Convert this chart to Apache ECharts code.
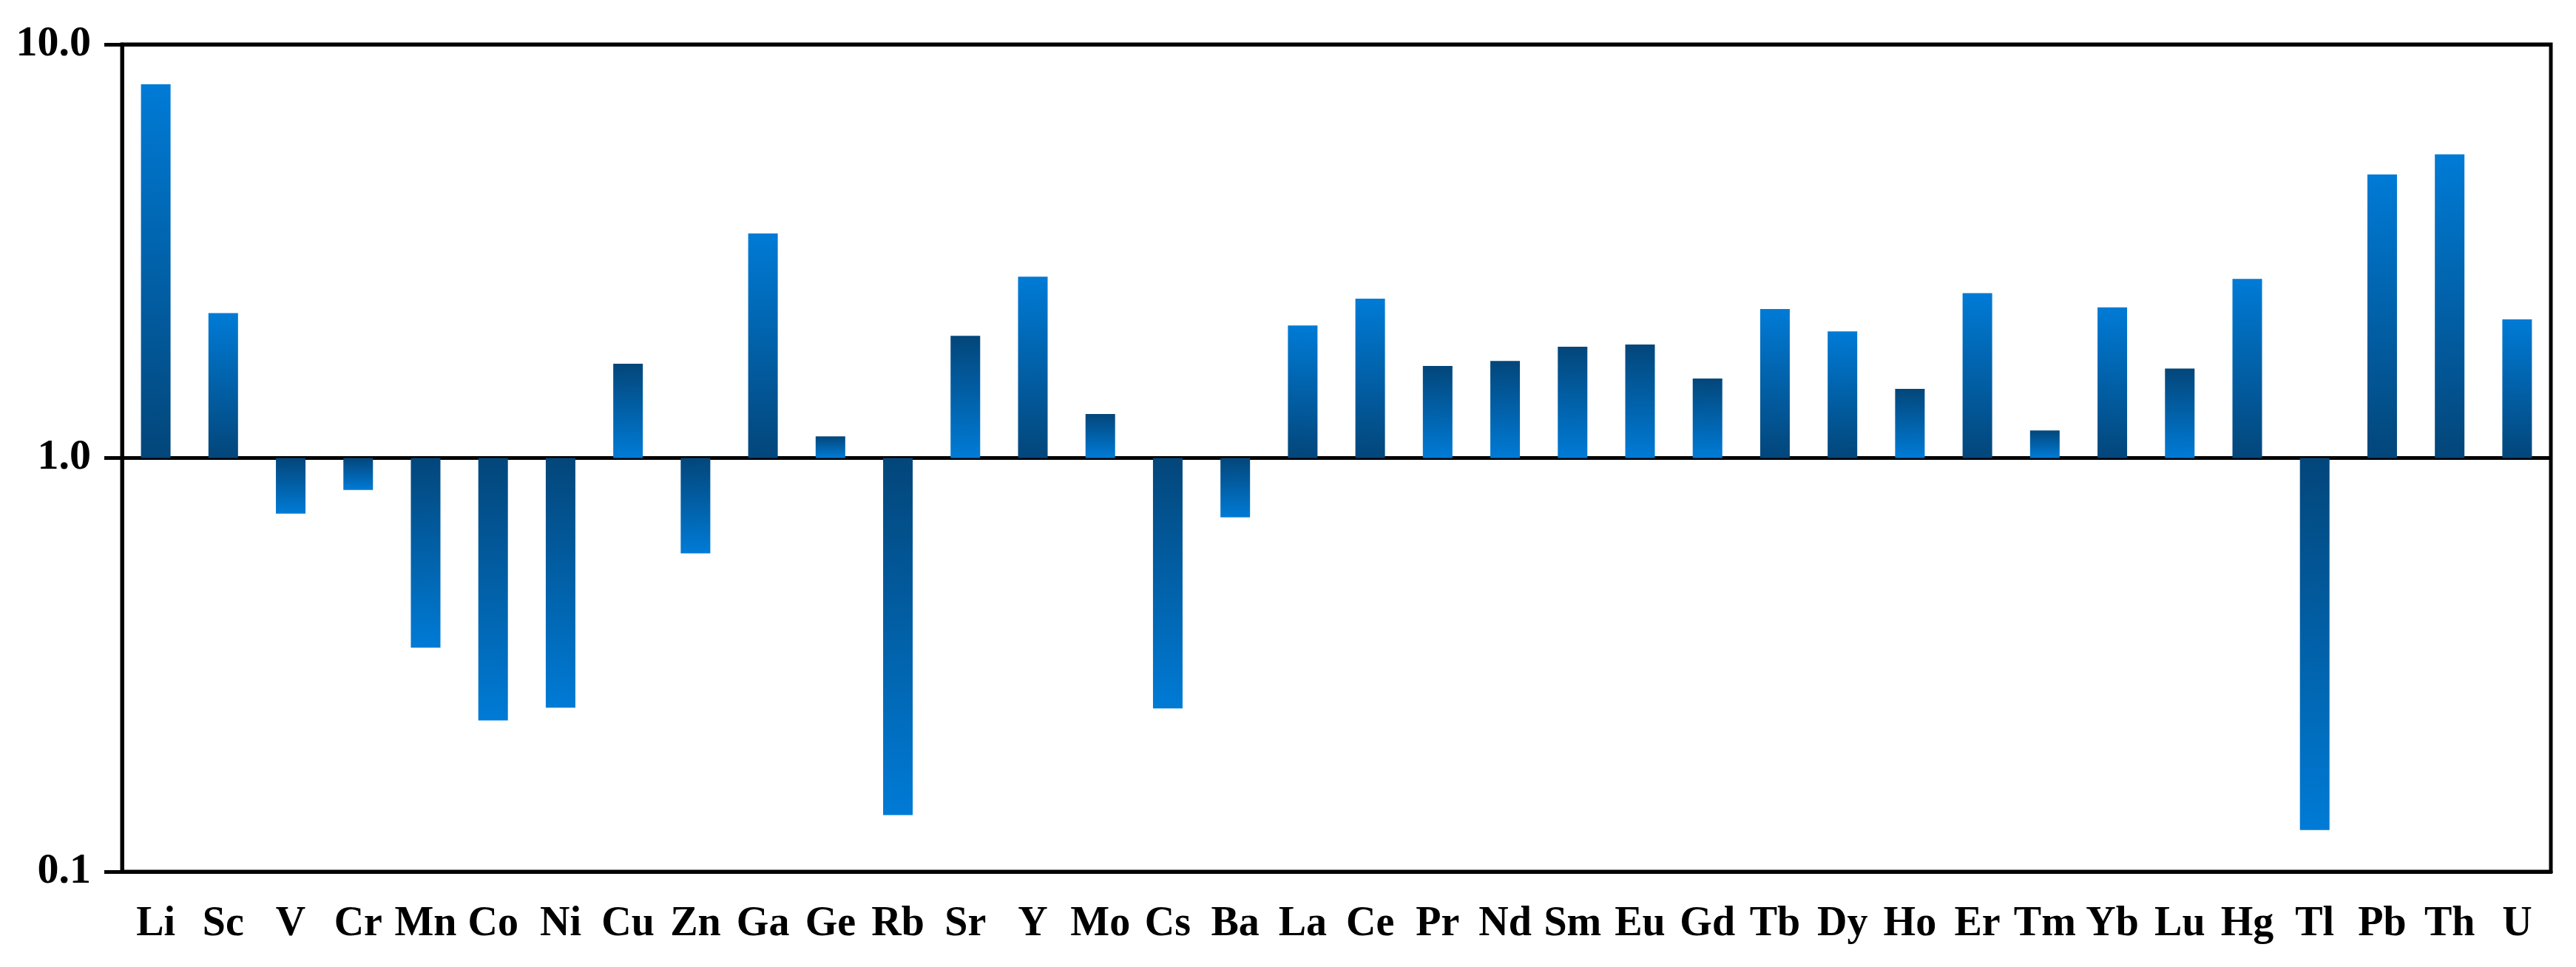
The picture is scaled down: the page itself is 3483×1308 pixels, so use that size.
<!DOCTYPE html>
<html><head><meta charset="utf-8">
<script src="https://cdn.jsdelivr.net/npm/echarts@6/dist/echarts.min.js"></script>
<style>html,body{margin:0;padding:0;background:#fff}#c{width:3483px;height:1308px}</style>
</head><body><div id="c"></div>
<script>
const categories = ['Li','Sc','V','Cr','Mn','Co','Ni','Cu','Zn','Ga','Ge','Rb','Sr','Y','Mo','Cs','Ba','La','Ce','Pr','Nd','Sm','Eu','Gd','Tb','Dy','Ho','Er','Tm','Yb','Lu','Hg','Tl','Pb','Th','U'];
const values = [8.01,2.24,0.734,0.837,0.348,0.232,0.249,1.69,0.588,3.49,1.128,0.137,1.974,2.744,1.278,0.248,0.719,2.092,2.428,1.670,1.717,1.858,1.881,1.557,2.292,2.023,1.470,2.503,1.166,2.313,1.645,2.710,0.126,4.847,5.424,2.163];
const yTicks = [0.1, 1, 10];

const LIGHT = '#007BD6', DARK = '#03467A';
function barColor(v) {
  // dark at the baseline for tall and negative bars, dark at the tip for short positive bars
  const darkTop = v < 2;
  const stops = darkTop
    ? [{offset: 0, color: DARK}, {offset: 1, color: LIGHT}]
    : [{offset: 0, color: LIGHT}, {offset: 1, color: DARK}];
  return new echarts.graphic.LinearGradient(0, 0, 0, 1, stops);
}

const chart = echarts.init(document.getElementById('c'), null, {renderer: 'canvas'});
const FONT = '"Liberation Serif", "Times New Roman", serif';
chart.setOption({
  animation: false,
  backgroundColor: '#fff',
  grid: {left: 165, right: 34, top: 60, bottom: 129, show: true, borderColor: '#000', borderWidth: 5, backgroundColor: 'transparent'},
  xAxis: {
    type: 'category',
    data: categories,
    axisLine: {show: true, lineStyle: {color: '#000', width: 5}},
    axisTick: {show: false},
    axisLabel: {interval: 0, color: '#000', fontFamily: FONT, fontWeight: 'bold', fontSize: 56, margin: 44}
  },
  yAxis: {
    type: 'log',
    logBase: 10,
    min: yTicks[0],
    max: yTicks[yTicks.length - 1],
    axisLine: {show: true, lineStyle: {color: '#000', width: 5}},
    axisTick: {show: true, inside: false, length: 24, lineStyle: {color: '#000', width: 5}},
    minorTick: {show: false},
    splitLine: {show: true, lineStyle: {color: '#000', width: 5}},
    axisLabel: {color: '#000', fontFamily: FONT, fontWeight: 'bold', fontSize: 58, margin: 42,
      formatter: v => Number(v).toFixed(1)}
  },
  series: [{
    type: 'bar',
    barWidth: 40,
    data: values.map(v => ({value: v, itemStyle: {color: barColor(v)}}))
  }]
});
</script></body></html>
